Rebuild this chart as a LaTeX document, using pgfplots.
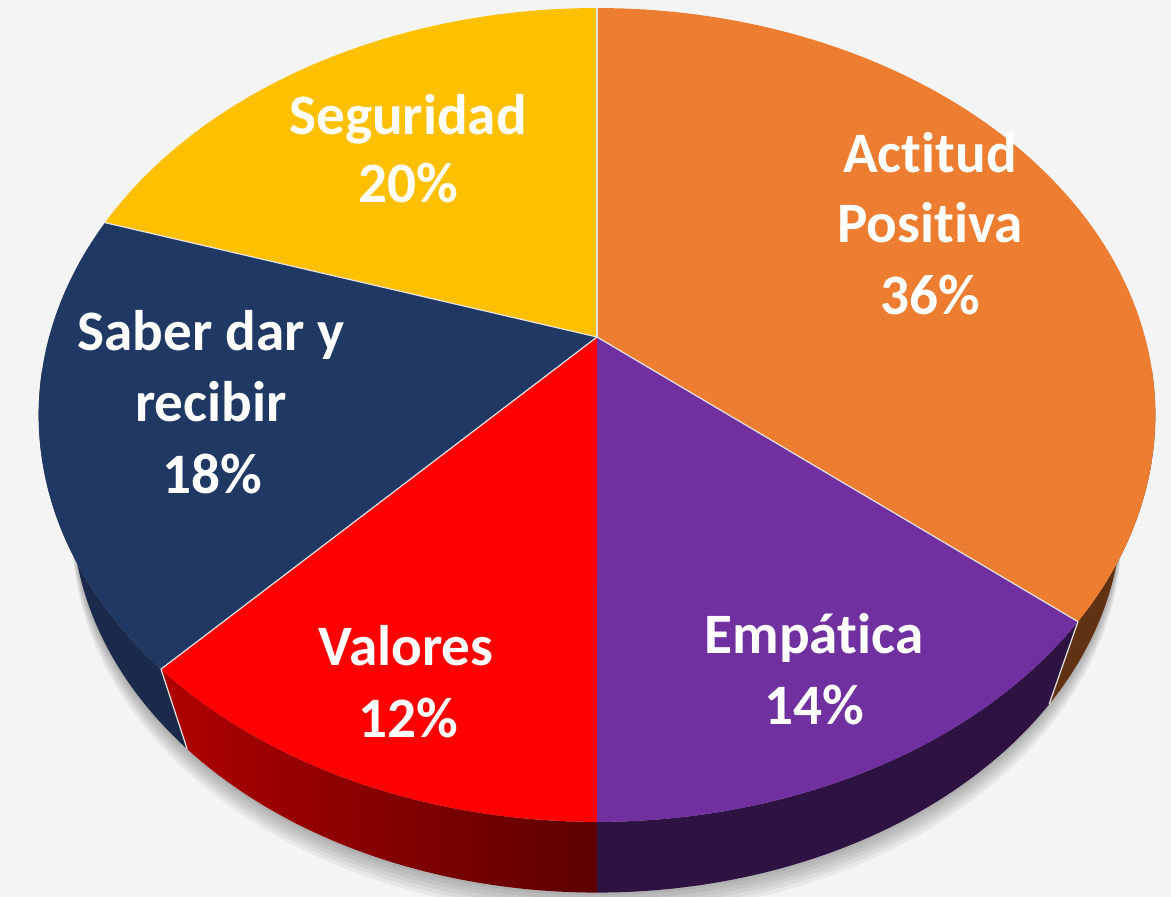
\documentclass[border=0pt]{standalone}
\usepackage{pgfplots}
\pgfplotsset{compat=1.18}
\usepackage{fontspec}
\setmainfont{Carlito}[Ligatures={NoCommon,NoContextual}, RawFeature={-liga;-calt;-dlig}]
\definecolor{bg}{RGB}{244,244,244}
\definecolor{cOrange}{RGB}{237,125,49}
\definecolor{cPurple}{RGB}{112,48,160}
\definecolor{cRed}{RGB}{255,0,0}
\definecolor{cNavy}{RGB}{32,56,100}
\definecolor{cYellow}{RGB}{255,192,0}
\definecolor{sOrange}{RGB}{96,50,19}
\definecolor{sPurple}{RGB}{46,18,66}
\definecolor{sRedL}{RGB}{176,0,0}
\definecolor{sRedR}{RGB}{92,0,0}
\definecolor{sNavy}{RGB}{27,42,74}
\definecolor{sep}{RGB}{228,228,228}
\tikzset{lab/.style={anchor=base, text=white, inner sep=0pt,
    font=\fontsize{28.6}{34}\selectfont\bfseries}}
% data: percentages, clockwise from the top
\def\vA{36}% Actitud Positiva
\def\vB{14}% Empatica
\def\vC{12}% Valores
\def\vD{18}% Saber dar y recibir
\def\vE{20}% Seguridad
\pgfmathsetmacro\aS{90}
\pgfmathsetmacro\aA{\aS-3.6*\vA}
\pgfmathsetmacro\aB{\aA-3.6*\vB}
\pgfmathsetmacro\aC{\aB-3.6*\vC}
\pgfmathsetmacro\aD{\aC-3.6*\vD}
\pgfmathsetmacro\aE{\aD-3.6*\vE}
\begin{document}
\begin{tikzpicture}
\path[use as bounding box, fill=bg] (0,0) rectangle (585.5pt,448.5pt);
\begin{axis}[at={(0,0)}, anchor=south west, scale only axis,
  width=585.5pt, height=448.5pt,
  xmin=0, xmax=1171, ymin=0, ymax=897, y dir=reverse,
  hide axis, clip=true,
  declare function={
    den(\tv)=1+0.1916*sin(\tv);
    px(\tv)=597+548*cos(\tv)/den(\tv);
    py(\tv)=337-392*sin(\tv)/den(\tv);
    bx(\tv)=597+0.94*(px(\tv)-597);
    by(\tv)=2000+0.94*(py(\tv)-2000);
    sa(\sv,\av,\bv)=(\sv<1)*(\av+(\bv-\av)*min(\sv/0.95,1))+(\sv>=1)*(\bv-(\bv-\av)*max((\sv-1.05)/0.95,0));
    sx(\sv,\av,\bv)=(\sv<1)*px(sa(\sv,\av,\bv))+(\sv>=1)*bx(sa(\sv,\av,\bv));
    sy(\sv,\av,\bv)=(\sv<1)*py(sa(\sv,\av,\bv))+(\sv>=1)*by(sa(\sv,\av,\bv));
  }]
% shadow
\pgfplotsinvokeforeach{3,7,11,15,19,23}{
  \addplot[fill=black, fill opacity=0.05, draw=none, domain=-180:180, samples=120]
    ({bx(x)},{by(x)+#1}) -- cycle;
}
% side walls
\addplot[fill=sOrange, draw=none, domain=0:2, samples=201]
  ({sx(x,-5,\aA)},{sy(x,-5,\aA)}) -- cycle;
\addplot[fill=sPurple, draw=none, domain=0:2, samples=201]
  ({sx(x,\aA,\aB)},{sy(x,\aA,\aB)}) -- cycle;
\addplot[left color=sRedL, right color=sRedR, draw=none, domain=0:2, samples=201]
  ({sx(x,\aB,\aC)},{sy(x,\aB,\aC)}) -- cycle;
\addplot[fill=sNavy, draw=none, domain=0:2, samples=201]
  ({sx(x,\aC,-175)},{sy(x,\aC,-175)}) -- cycle;
% top faces
\addplot[fill=cOrange, draw=none, domain=\aA:\aS, samples=90] ({px(x)},{py(x)}) -- (597,337) -- cycle;
\addplot[fill=cPurple, draw=none, domain=\aB:\aA, samples=50] ({px(x)},{py(x)}) -- (597,337) -- cycle;
\addplot[fill=cRed, draw=none, domain=\aC:\aB, samples=50] ({px(x)},{py(x)}) -- (597,337) -- cycle;
\addplot[fill=cNavy, draw=none, domain=\aD:\aC, samples=60] ({px(x)},{py(x)}) -- (597,337) -- cycle;
\addplot[fill=cYellow, draw=none, domain=\aE:\aD, samples=60] ({px(x)},{py(x)}) -- (597,337) -- cycle;
% separators
\pgfplotsinvokeforeach{\aS,\aA,\aC,\aD}{
  \addplot[sep, line width=0.6pt, domain=0:1, samples=2]
    ({597+x*(px(#1)-597)},{337+x*(py(#1)-337)});
}
\pgfplotsinvokeforeach{\aA,\aC}{
  \addplot[sep, line width=0.6pt, domain=0:1, samples=2]
    ({px(#1)+x*(bx(#1)-px(#1))},{py(#1)+x*(by(#1)-py(#1))});
}
% labels
\node[lab] at (axis cs:930,173) {Act\kern0pt itud};
\node[lab] at (axis cs:930,243) {Posit\kern0pt iva};
\node[lab] at (axis cs:930,315) {36\%};
\node[lab] at (axis cs:814,653) {Empát\kern0pt ica};
\node[lab] at (axis cs:814,724) {14\%};
\node[lab] at (axis cs:406,665) {Valores};
\node[lab] at (axis cs:408,737) {12\%};
\node[lab] at (axis cs:211,351) {Saber dar y};
\node[lab] at (axis cs:211,422) {recibir};
\node[lab] at (axis cs:212,494) {18\%};
\node[lab] at (axis cs:408,135) {Seguridad};
\node[lab] at (axis cs:408,203) {20\%};
\end{axis}
\end{tikzpicture}
\end{document}
